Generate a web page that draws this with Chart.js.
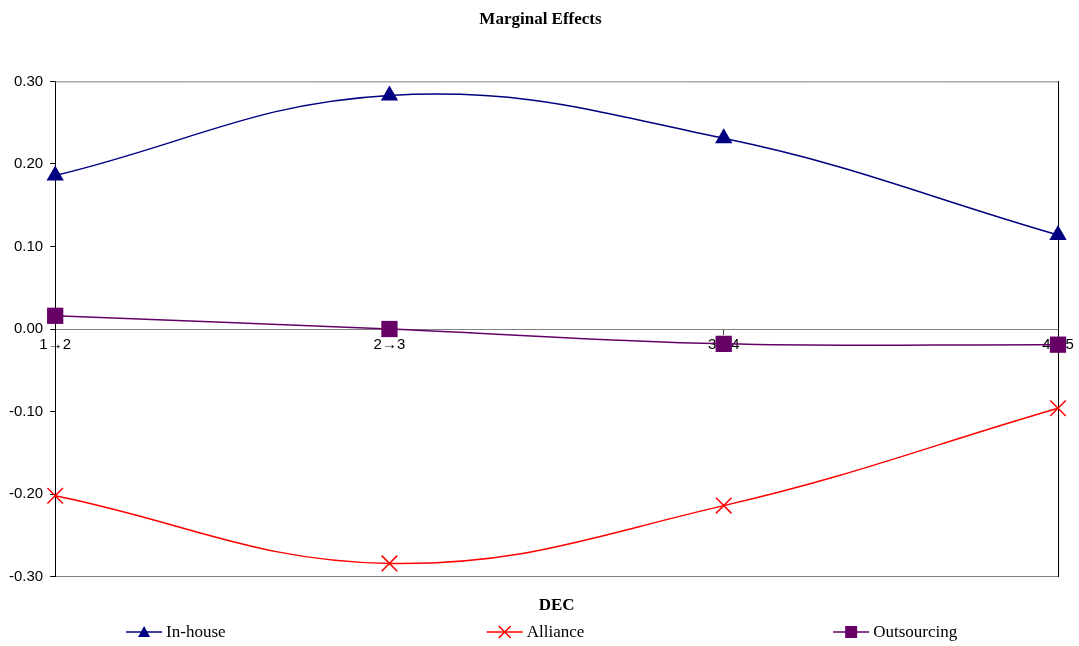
<!DOCTYPE html>
<html>
<head>
<meta charset="utf-8">
<script src="https://cdn.jsdelivr.net/npm/chart.js@4/dist/chart.umd.min.js"></script>
<style>
  html, body { margin: 0; padding: 0; background: #fff; }
  #wrap { width: 1079px; height: 646px; }
</style>
</head>
<body>
<div id="wrap"><canvas id="myChart"></canvas></div>
<script>
// data
var categories = ["1\u21922", "2\u21923", "3\u21924", "4\u21925"];
var inHouse = [0.186, 0.283, 0.231, 0.114];
var alliance = [-0.202, -0.284, -0.214, -0.096];
var outsourcing = [0.016, 0.000, -0.018, -0.019];
var yMin = -0.3, yMax = 0.3, yStep = 0.1;

var NAVY = "#000080", RED = "#ff0000", PURPLE = "#660066";
var SERIF = "'Liberation Serif', 'Times New Roman', serif";
var SANS = "'Liberation Sans', Arial, sans-serif";

// line + marker, like the excel legend keys
function drawKey(g, x, y, color, style){
    g.save();
    g.strokeStyle = color; g.fillStyle = color; g.lineWidth = 1.5;
    g.beginPath(); g.moveTo(x, y); g.lineTo(x + 36, y); g.stroke();
    var cx = x + 18;
    g.beginPath();
    if(style == "triangle"){
        g.moveTo(cx, y - 6); g.lineTo(cx + 6, y + 5); g.lineTo(cx - 6, y + 5); g.closePath(); g.fill();
    } else if(style == "rect"){
        g.fillRect(cx - 6, y - 6, 12, 12);
    } else {
        g.moveTo(cx - 6, y - 6); g.lineTo(cx + 6, y + 6); g.moveTo(cx + 6, y - 6); g.lineTo(cx - 6, y + 6); g.stroke();
    }
    g.restore();
}

// excel spreads the legend entries over thirds of the chart width
var legendPlugin = {
    id: "xlLegend",
    afterDraw: function(chart){
        var g = chart.ctx, n = chart.data.datasets.length;
        var y = chart.height - 14;
        g.save();
        g.font = "17px " + SERIF;
        g.textBaseline = "middle";
        g.fillStyle = "#000";
        chart.data.datasets.forEach(function(d, i){
            var tw = g.measureText(d.label).width;
            var w = 36 + 4 + tw;
            var x0 = chart.width * (i + 0.5) / n - w / 2 - 4;
            drawKey(g, x0, y, d.borderColor, d.keyStyle);
            g.fillText(d.label, x0 + 40, y + 1);
        });
        g.restore();
    }
};

// top edge of the plot box
var boxPlugin = {
    id: "box",
    beforeDatasetsDraw: function(chart){
        var a = chart.chartArea, ctx = chart.ctx;
        ctx.save();
        ctx.lineWidth = 1;
        ctx.strokeStyle = "#808080";
        ctx.beginPath(); ctx.moveTo(a.left, a.top + 0.5); ctx.lineTo(a.right, a.top + 0.5); ctx.stroke();
        ctx.restore();
    }
};

var series = [
    {label: "In-house", data: inHouse, color: NAVY, style: "triangle", radius: 10},
    {label: "Alliance", data: alliance, color: RED, style: "crossRot", radius: 11},
    {label: "Outsourcing", data: outsourcing, color: PURPLE, style: "rect", radius: 11.5}
];

var ctx = document.getElementById("myChart").getContext("2d");
var chart = new Chart(ctx, {
    type: "line",
    data: {
        labels: categories,
        datasets: series.map(function(s){
            return {
                label: s.label,
                data: s.data,
                borderColor: s.color,
                backgroundColor: s.color,
                borderWidth: 1.5,
                pointStyle: s.style,
                pointRadius: s.radius,
                pointHoverRadius: s.radius,
                pointBorderWidth: s.style == "crossRot" ? 1.5 : 0,
                pointBackgroundColor: s.color,
                pointBorderColor: s.color,
                tension: 0.4,
                clip: false,
                fill: false,
                keyStyle: s.style
            };
        })
    },
    plugins: [boxPlugin, legendPlugin],
    options: {
        responsive: true,
        maintainAspectRatio: false,
        animation: false,
        layout: { padding: { left: 2, right: 0, top: 0, bottom: 24 } },
        scales: {
            x: {
                type: "category",
                position: { y: 0 },
                offset: false,
                border: { color: "#808080", width: 1 },
                grid: { drawOnChartArea: false, drawTicks: true, tickLength: 5, color: "#404040" },
                ticks: { color: "#000", font: { family: SANS, size: 15 }, maxRotation: 0, autoSkip: false, padding: 2 }
            },
            xb: {
                type: "category",
                position: "bottom",
                labels: categories,
                offset: false,
                border: { color: "#808080", width: 1 },
                grid: { display: false },
                ticks: { display: false },
                title: { display: true, text: "DEC", color: "#000",
                         font: { family: SERIF, size: 17, weight: "bold" },
                         padding: { top: 11, bottom: 6 } }
            },
            y: {
                min: yMin, max: yMax,
                border: { color: "#000", width: 1 },
                grid: { drawOnChartArea: false, drawTicks: true, tickLength: 5, color: "#000" },
                ticks: {
                    stepSize: yStep,
                    color: "#000",
                    padding: 7,
                    font: { family: SANS, size: 15 },
                    callback: function(v){ return Math.abs(v) < 1e-9 ? "0.00" : Number(v).toFixed(2); }
                }
            },
            // right edge of the plot box, and the margin beside it
            yr: {
                position: "right",
                min: yMin, max: yMax,
                border: { color: "#000", width: 1 },
                grid: { display: false },
                ticks: { display: false },
                afterFit: function(scale){ scale.width = 21; }
            }
        },
        plugins: {
            title: {
                display: true,
                text: "Marginal Effects",
                color: "#000",
                font: { family: SERIF, size: 17, weight: "bold" },
                padding: { top: 9, bottom: 52 }
            },
            legend: { display: false },
            tooltip: { enabled: false }
        }
    }
});
</script>
</body>
</html>
